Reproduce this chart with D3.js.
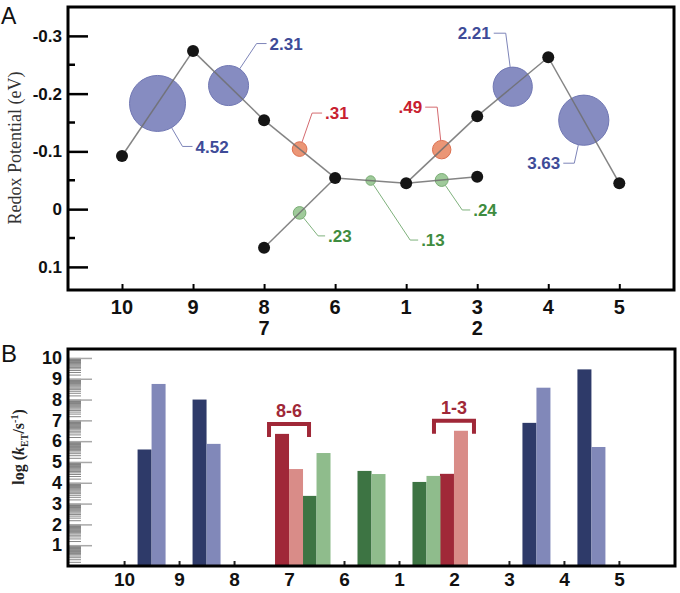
<!DOCTYPE html>
<html>
<head>
<meta charset="utf-8">
<script src="https://cdn.jsdelivr.net/npm/d3@7"></script>
<style>
  body { margin: 0; background: #fff; }
  svg { display: block; font-family: "Liberation Sans", Arial, sans-serif; }
</style>
</head>
<body>
<div id="chart"></div>
<script>
// ---- Panel A: redox potential of each cluster ----
const clusters = ["10", "9", "8", "7", "6", "1", "2", "3", "4", "5"];
const potentials = [-0.092, -0.274, -0.154, 0.067, -0.054, -0.045, -0.056, -0.161, -0.263, -0.045];
const columnTop = ["10", "9", "8", "6", "1", "3", "4", "5"];
const columnBottom = ["", "", "7", "", "", "2", "", ""];
const yTicksA = [-0.3, -0.2, -0.1, 0, 0.1];
const yMinorA = [-0.25, -0.15, -0.05, 0.05];

// hops between clusters and the value printed on each circle
const edges = ["10-9", "9-8", "8-6", "7-6", "6-1", "1-3", "1-2", "3-4", "4-5"];
const edgeValues = [4.52, 2.31, 0.31, 0.23, 0.13, 0.49, 0.24, 2.21, 3.63];
const edgeKinds = ["blue", "blue", "red", "green", "green", "red", "green", "blue", "blue"];

// ---- Panel B: log rates per hop (forward / backward) ----
const barCategories = ["10", "9", "8", "7", "6", "1", "2", "3", "4", "5"];
const barEdges = ["10-9", "9-8", "8-6", "7-6", "6-1", "1-2", "1-3", "3-4", "4-5"];
const barDark = [5.6, 8.0, 6.35, 3.37, 4.57, 4.04, 4.43, 6.88, 9.45];
const barLight = [8.75, 5.87, 4.66, 5.43, 4.42, 4.33, 6.5, 8.57, 5.72];
const bracketEdges = ["8-6", "1-3"];
const yTicksB = [1, 2, 3, 4, 5, 6, 7, 8, 9, 10];

// leader line layout for the circle labels: elbow dx, dy and horizontal run
const leaderLayout = {
  "10-9": [25, 43, 10], "9-8": [28, -42, 10], "8-6": [12.5, -36, 10],
  "7-6": [18.5, 23, 7], "6-1": [39.5, 59.5, 8], "1-2": [20.5, 30, 8],
  "1-3": [-4.5, -42.5, -12], "3-4": [-7, -53.5, -12], "4-5": [-9.5, 43, -11]
};

const palette = {
  blue:  { fill: "#646cb0", stroke: "#7077b3", label: "#3e4b98", leader: "#7d84b8", dark: "#2e3a69", light: "#8188b9" },
  red:   { fill: "#e6794f", stroke: "#dc7050", label: "#c8202f", leader: "#d46a6f", dark: "#a02838", light: "#d98c88" },
  green: { fill: "#84bb7e", stroke: "#79ad74", label: "#3f8c40", leader: "#7fb27d", dark: "#3d7443", light: "#8fbc8c" }
};

const width = 680, height = 593;
const svg = d3.select("#chart").append("svg")
  .attr("width", width).attr("height", height);

// ================= Panel A =================
const xA = d3.scaleLinear().domain([-0.76, 7.77]).range([68, 674]);
const yA = d3.scaleLinear().domain([-0.35, 0.14]).range([7, 290]);
const rA = d3.scaleSqrt().domain([0, 4.52]).range([0, 28]);

function columnOf(c) {
  const i = columnTop.indexOf(c);
  return i >= 0 ? i : columnBottom.indexOf(c);
}
const nodePos = {};
clusters.forEach((c, i) => {
  nodePos[c] = { x: xA(columnOf(c)), y: yA(potentials[i]) };
});

const gA = svg.append("g");

// y axis with inward ticks
gA.append("g")
  .attr("transform", `translate(${xA.range()[0]},0)`)
  .call(d3.axisLeft(yA).tickValues(yTicksA).tickSizeInner(-20).tickSizeOuter(0).tickPadding(6)
    .tickFormat(d => d === 0 ? "0" : d.toFixed(1)))
  .call(g => g.select(".domain").remove())
  .call(g => g.selectAll(".tick line").attr("stroke", "#000").attr("stroke-width", 2.5))
  .call(g => g.selectAll(".tick text").attr("fill", "#111").style("font-size", "17px").style("font-weight", "bold"));

gA.append("g").selectAll("line").data(yMinorA).join("line")
  .attr("x1", xA.range()[0]).attr("x2", xA.range()[0] + 7)
  .attr("y1", d => yA(d)).attr("y2", d => yA(d))
  .attr("stroke", "#000").attr("stroke-width", 2.5);

// x axis: ticks point up, two label rows
gA.append("g")
  .attr("transform", `translate(0,${yA.range()[1]})`)
  .call(d3.axisBottom(xA).tickValues(d3.range(columnTop.length)).tickSizeInner(-6).tickSizeOuter(0)
    .tickFormat(() => ""))
  .call(g => g.select(".domain").remove())
  .call(g => g.selectAll(".tick line").attr("stroke", "#000").attr("stroke-width", 2));

gA.append("g").selectAll("text.top").data(columnTop).join("text")
  .attr("x", (d, i) => xA(i)).attr("y", 314)
  .attr("text-anchor", "middle").attr("fill", "#111")
  .style("font-size", "20px").style("font-weight", "bold")
  .text(d => d);
gA.append("g").selectAll("text.bottom").data(columnBottom).join("text")
  .attr("x", (d, i) => xA(i)).attr("y", 335)
  .attr("text-anchor", "middle").attr("fill", "#111")
  .style("font-size", "20px").style("font-weight", "bold")
  .text(d => d);

// frame
gA.append("rect")
  .attr("x", xA.range()[0]).attr("y", yA.range()[0])
  .attr("width", xA.range()[1] - xA.range()[0]).attr("height", yA.range()[1] - yA.range()[0])
  .attr("fill", "none").attr("stroke", "#000").attr("stroke-width", 3);

// connecting lines
const edgeData = edges.map((e, i) => {
  const [a, b] = e.split("-");
  const p = nodePos[a], q = nodePos[b];
  return { id: e, a: p, b: q, value: edgeValues[i], kind: edgeKinds[i],
    cx: (p.x + q.x) / 2, cy: (p.y + q.y) / 2 };
});

// hop circles (line shows through them)
gA.append("g").selectAll("circle").data(edgeData).join("circle")
  .attr("cx", d => d.cx).attr("cy", d => d.cy).attr("r", d => rA(d.value))
  .attr("fill", d => palette[d.kind].fill).attr("fill-opacity", 0.78)
  .attr("stroke", d => palette[d.kind].stroke).attr("stroke-width", 1);

gA.append("g").selectAll("line").data(edgeData).join("line")
  .attr("x1", d => d.a.x).attr("y1", d => d.a.y)
  .attr("x2", d => d.b.x).attr("y2", d => d.b.y)
  .attr("stroke", "#6e6e6e").attr("stroke-width", 1.5).attr("stroke-opacity", 0.85);

// cluster dots
gA.append("g").selectAll("circle").data(clusters).join("circle")
  .attr("cx", d => nodePos[d].x).attr("cy", d => nodePos[d].y).attr("r", 6)
  .attr("fill", "#151515");

// leader lines and labels
const fmtEdge = v => v >= 1 ? v.toFixed(2) : v.toFixed(2).replace(/^0/, "");
const leaders = gA.append("g");
edgeData.forEach(d => {
  const [dx, dy, run] = leaderLayout[d.id];
  const r = rA(d.value);
  const len = Math.hypot(dx, dy);
  const sx = d.cx + dx / len * r, sy = d.cy + dy / len * r;
  const ex = d.cx + dx, ey = d.cy + dy;
  leaders.append("path")
    .attr("d", `M${sx},${sy}L${ex},${ey}L${ex + run},${ey}`)
    .attr("fill", "none").attr("stroke", palette[d.kind].leader).attr("stroke-width", 1);
  leaders.append("text")
    .attr("x", ex + run + (run > 0 ? 3 : -3)).attr("y", ey).attr("dy", "0.36em")
    .attr("text-anchor", run > 0 ? "start" : "end")
    .attr("fill", palette[d.kind].label)
    .style("font-size", "17px").style("font-weight", "bold")
    .text(fmtEdge(d.value));
});

// axis title and panel letter
gA.append("text")
  .attr("transform", "translate(21,148) rotate(-90)")
  .attr("text-anchor", "middle").attr("fill", "#333")
  .style("font-family", "'Liberation Serif', 'Times New Roman', serif").style("font-size", "18px")
  .text("Redox Potential (eV)");
gA.append("text").attr("x", 1).attr("y", 24).attr("fill", "#111")
  .style("font-size", "23px").text("A");

// ================= Panel B =================
const xB = d3.scaleLinear().domain([-1.02, 10.02]).range([68, 675]);
const yB = d3.scaleLinear().domain([0, 10.43]).range([566, 349]);
const barW = 14;

const gB = svg.append("g");

// minor log ticks inside each unit
const minorB = [];
d3.range(0, 10).forEach(n => d3.range(1.5, 10, 0.5).forEach(k => minorB.push(n + Math.log10(k))));
gB.append("g").selectAll("line").data(minorB).join("line")
  .attr("x1", xB.range()[0]).attr("x2", xB.range()[0] + 13)
  .attr("y1", d => yB(d)).attr("y2", d => yB(d))
  .attr("stroke", "#7a7a7a").attr("stroke-width", 0.9);

gB.append("g")
  .attr("transform", `translate(${xB.range()[0]},0)`)
  .call(d3.axisLeft(yB).tickValues(yTicksB).tickSizeInner(-24).tickSizeOuter(0).tickPadding(6))
  .call(g => g.select(".domain").remove())
  .call(g => g.selectAll(".tick line").attr("stroke", "#a8a8a8").attr("stroke-width", 1.5))
  .call(g => g.selectAll(".tick text").attr("fill", "#111").style("font-size", "18px").style("font-weight", "bold"));

gB.append("g")
  .attr("transform", `translate(0,${yB.range()[0]})`)
  .call(d3.axisBottom(xB).tickValues(d3.range(barCategories.length)).tickSizeInner(-5).tickSizeOuter(0)
    .tickPadding(7).tickFormat(i => barCategories[i]))
  .call(g => g.select(".domain").remove())
  .call(g => g.selectAll(".tick line").attr("stroke", "#222").attr("stroke-width", 2))
  .call(g => g.selectAll(".tick text").attr("fill", "#111").style("font-size", "19px").style("font-weight", "bold"));

// bar pairs centred between the two clusters of each hop
const barData = barEdges.map((e, i) => {
  const [a, b] = e.split("-");
  const center = xB((barCategories.indexOf(a) + barCategories.indexOf(b)) / 2);
  return { id: e, center, dark: barDark[i], light: barLight[i], kind: edgeKinds[edges.indexOf(e)] };
});

const bars = gB.append("g");
bars.selectAll("rect.dark").data(barData).join("rect")
  .attr("x", d => d.center - barW).attr("width", barW)
  .attr("y", d => yB(d.dark)).attr("height", d => yB(0) - yB(d.dark))
  .attr("fill", d => palette[d.kind].dark);
bars.selectAll("rect.light").data(barData).join("rect")
  .attr("x", d => d.center).attr("width", barW)
  .attr("y", d => yB(d.light)).attr("height", d => yB(0) - yB(d.light))
  .attr("fill", d => palette[d.kind].light);

// brackets over the slow hops
const brackets = gB.append("g");
barData.filter(d => bracketEdges.includes(d.id)).forEach(d => {
  const top = yB(Math.max(d.dark, d.light)) - 10;
  const x0 = d.center - barW - 6, x1 = d.center + barW + 6;
  brackets.append("path")
    .attr("d", `M${x0},${top + 13}V${top}H${x1}V${top + 13}`)
    .attr("fill", "none").attr("stroke", palette.red.dark).attr("stroke-width", 4);
  brackets.append("text")
    .attr("x", d.center).attr("y", top - 7)
    .attr("text-anchor", "middle").attr("fill", palette.red.dark)
    .style("font-size", "18px").style("font-weight", "bold")
    .text(d.id);
});

gB.append("rect")
  .attr("x", xB.range()[0]).attr("y", yB.range()[1])
  .attr("width", xB.range()[1] - xB.range()[0]).attr("height", yB.range()[0] - yB.range()[1])
  .attr("fill", "none").attr("stroke", "#000").attr("stroke-width", 3);

// axis title
const titleB = gB.append("text")
  .attr("transform", "translate(24,447) rotate(-90)")
  .attr("text-anchor", "middle").attr("fill", "#222")
  .style("font-family", "'Liberation Serif', 'Times New Roman', serif")
  .style("font-size", "16px").style("font-weight", "bold");
titleB.append("tspan").text("log (");
titleB.append("tspan").style("font-style", "italic").text("k");
titleB.append("tspan").attr("dy", 4).style("font-size", "10px").text("ET");
titleB.append("tspan").attr("dy", -4).text("/s");
titleB.append("tspan").attr("dy", -6).style("font-size", "10px").text("-1");
titleB.append("tspan").attr("dy", 6).text(")");

gB.append("text").attr("x", 1).attr("y", 362).attr("fill", "#111")
  .style("font-size", "24px").text("B");
</script>
</body>
</html>
